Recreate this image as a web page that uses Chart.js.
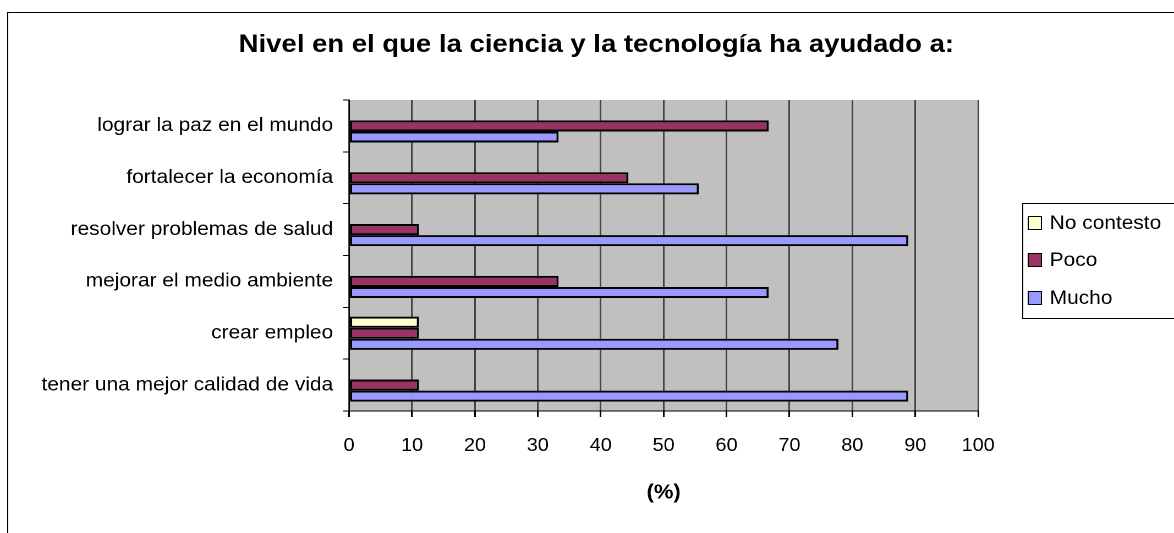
<!DOCTYPE html>
<html>
<head>
<meta charset="utf-8">
<script src="https://cdn.jsdelivr.net/npm/chart.js@4"></script>
<style>
  html, body { margin: 0; padding: 0; background: #fff; overflow: hidden; }
  /* the reference is slightly stretched sideways, so draw narrower and widen */
  #wrap { width: 1067px; height: 533px; transform: scaleX(1.10028); transform-origin: 0 0; }
</style>
</head>
<body>
<div id="wrap"><canvas id="chart" width="1067" height="533"></canvas></div>
<script>
const titleText = "Nivel en el que la ciencia y la tecnología ha ayudado a:";
const categories = [
  "lograr la paz en el mundo",
  "fortalecer la economía",
  "resolver problemas de salud",
  "mejorar el medio ambiente",
  "crear empleo",
  "tener una mejor calidad de vida"
];
const noContesto = [0, 0, 0, 0, 11.1, 0];
const poco = [66.7, 44.4, 11.1, 33.3, 11.1, 11.1];
const mucho = [33.3, 55.6, 88.9, 66.7, 77.8, 88.9];
const xTicks = [0, 10, 20, 30, 40, 50, 60, 70, 80, 90, 100];

const FONT = '"Liberation Sans", Arial, sans-serif';

// gray plot area + outer frame
const plotBg = {
  id: "plotBg",
  beforeDraw(chart) {
    const { ctx, chartArea: a } = chart;
    ctx.save();
    ctx.strokeStyle = "#000";
    ctx.lineWidth = 1;
    ctx.strokeRect(7, 12.5, chart.width + 20, chart.height + 20);
    ctx.fillStyle = "#c0c0c0";
    ctx.fillRect(a.left, a.top, a.right - a.left, a.bottom - a.top);
    ctx.restore();
  }
};

// title + boxed legend on the right
const extras = {
  id: "extras",
  afterDraw(chart) {
    const ctx = chart.ctx;
    ctx.save();
    ctx.fillStyle = "#000";
    ctx.font = "bold 25px " + FONT;
    ctx.textAlign = "center";
    ctx.textBaseline = "middle";
    ctx.fillText(titleText, 542, 45);

    const rows = [223, 260, 298];
    ctx.textAlign = "left";
    ctx.strokeStyle = "#000";
    ctx.lineWidth = 1;
    ctx.strokeRect(929.5, 203.5, 200, 115);
    ctx.font = "19px " + FONT;
    chart.data.datasets.forEach((ds, i) => {
      const y = rows[i];
      ctx.fillStyle = ds.backgroundColor;
      ctx.fillRect(934.5, y - 6.5, 12, 13);
      ctx.strokeRect(934.5, y - 6.5, 12, 13);
      ctx.fillStyle = "#000";
      ctx.fillText(ds.label, 954, y + 1);
    });
    ctx.restore();
  }
};

new Chart(document.getElementById("chart"), {
  type: "bar",
  data: {
    labels: categories,
    datasets: [
      { label: "No contesto", data: noContesto, backgroundColor: "#ffffcc" },
      { label: "Poco", data: poco, backgroundColor: "#993366" },
      { label: "Mucho", data: mucho, backgroundColor: "#9999ff" }
    ].map(d => Object.assign(d, { borderColor: "#000", borderWidth: 2, borderSkipped: false }))
  },
  options: {
    indexAxis: "y",
    responsive: false,
    devicePixelRatio: 2,
    animation: false,
    categoryPercentage: 0.64,
    barPercentage: 1,
    layout: { padding: { left: 0, right: 178, top: 100, bottom: 0 } },
    plugins: {
      legend: { display: false },
      tooltip: { enabled: false },
      title: { display: false }
    },
    scales: {
      x: {
        min: 0,
        max: 100,
        afterBuildTicks: s => { s.ticks = xTicks.map(v => ({ value: v })); },
        afterFit: s => { s.height = 122; },
        ticks: { color: "#000", font: { family: FONT, size: 18 }, padding: 18 },
        grid: { color: "#444", tickColor: "#000", tickLength: 6, lineWidth: 1.5 },
        border: { color: "#000", width: 1 },
        title: {
          display: true,
          text: "(%)",
          color: "#000",
          font: { family: FONT, size: 20, weight: "bold" },
          padding: { top: 0, bottom: 28 }
        }
      },
      y: {
        afterFit: s => { s.width = 317.3; },
        ticks: { color: "#000", font: { family: FONT, size: 19 }, padding: 9 },
        grid: { drawOnChartArea: false, offset: true, tickColor: "#000", tickLength: 5.5 },
        border: { color: "#000", width: 1 }
      }
    }
  },
  plugins: [plotBg, extras]
});
</script>
</body>
</html>
